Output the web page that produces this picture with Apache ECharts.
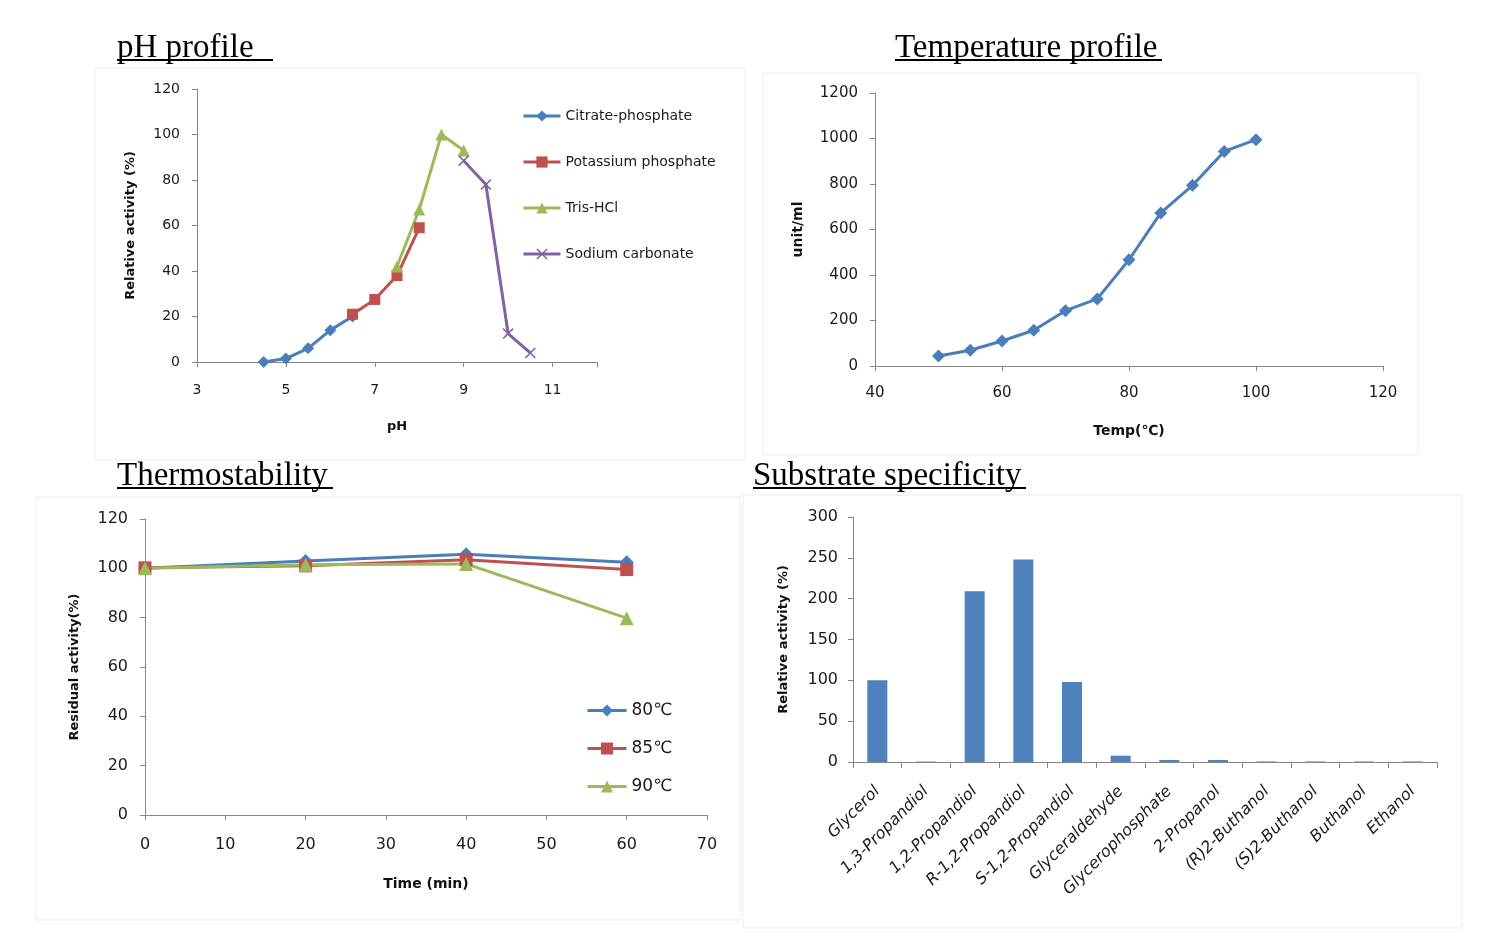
<!DOCTYPE html>
<html>
<head>
    <meta charset="utf-8">
    <script src="https://cdn.jsdelivr.net/npm/echarts@6/dist/echarts.min.js"></script>
    <style>
        html, body { margin: 0; padding: 0; background: #fff; }
    </style>
</head>
<body>
    <div id="main" style="width: 1485px;height:943px"></div>
    <script type="text/javascript">
        // data
        var phCitrate = [[4.5, 0], [5, 1.5], [5.5, 6], [6, 14], [6.5, 20]];
        var phPotassium = [[6.5, 21], [7, 27.5], [7.5, 38], [8, 59]];
        var phTris = [[7.5, 42], [8, 67], [8.5, 100], [9, 93]];
        var phSodium = [[9, 88.5], [9.5, 78], [10, 12.5], [10.5, 4]];

        var tempX = [50, 55, 60, 65, 70, 75, 80, 85, 90, 95, 100];
        var tempY = [44, 69, 110, 157, 243, 295, 467, 673, 794, 943, 995];

        var thermoTime = [0, 20, 40, 60];
        var thermo80 = [100, 103, 105.7, 102.5];
        var thermo85 = [100.2, 101, 103.5, 99.5];
        var thermo90 = [100, 101.5, 101.8, 79.8];

        var substrates = ['Glycerol', '1,3-Propandiol', '1,2-Propandiol', 'R-1,2-Propandiol',
            'S-1,2-Propandiol', 'Glyceraldehyde', 'Glycerophosphate', '2-Propanol',
            '(R)2-Buthanol', '(S)2-Buthanol', 'Buthanol', 'Ethanol'];
        var substrateAct = [100, 0.5, 209, 248, 98, 7.7, 2.4, 2.4, 0.7, 0.7, 0.7, 0.7];

        var FONT = "'DejaVu Sans', 'Noto Sans', sans-serif";
        var SERIF = "'Liberation Serif', 'DejaVu Serif', serif";
        var BLUE = '#4a7ebb', RED = '#c0504d', GREEN = '#9bbb59', PURPLE = '#8064a2';
        var CROSS = 'path://M1,0 L5,4 L9,0 L10,1 L6,5 L10,9 L9,10 L5,6 L1,10 L0,9 L4,5 L0,1 Z';

        var zipXY = function (xs, ys) {
            var out = [];
            for (var i = 0; i < xs.length; i++) { out.push([xs[i], ys[i]]); }
            return out;
        };

        var plain = function (v) { return String(v); };

        var axisBase = function (grid, size, margin) {
            return {
                gridIndex: grid,
                axisLine: { show: true, lineStyle: { color: '#878787', width: 1 } },
                axisTick: { show: true, length: 5, lineStyle: { color: '#878787' } },
                splitLine: { show: false },
                axisLabel: { color: '#1a1a1a', fontFamily: FONT, fontSize: size, margin: margin, formatter: plain },
                nameLocation: 'middle',
                nameTextStyle: { color: '#111', fontFamily: FONT, fontWeight: 'bold', fontSize: 13 }
            };
        };

        var mk = function (base, extra) {
            for (var k in extra) { base[k] = extra[k]; }
            return base;
        };

        var titleText = function (txt, x, y, ulw) {
            return [{
                type: 'text', x: x, y: y + 4,
                style: { text: txt, font: '33px ' + SERIF, fill: '#000', verticalAlign: 'middle' }
            }, {
                type: 'rect', shape: { x: x, y: y + 15, width: ulw, height: 2 },
                style: { fill: '#000' }
            }];
        };

        var panel = function (x, y, w, h) {
            return {
                type: 'rect', shape: { x: x, y: y, width: w, height: h }, silent: true, z: -10,
                style: { fill: 'none', stroke: '#ececec', lineWidth: 1 }
            };
        };

        var myChart = echarts.init(document.getElementById('main'));

        var lineSeries = function (name, x, y, data, color, symbol, size) {
            return {
                name: name, type: 'line', xAxisIndex: x, yAxisIndex: y, data: data,
                symbol: symbol, symbolSize: size, showAllSymbol: true,
                lineStyle: { color: color, width: 3 },
                itemStyle: { color: color },
                emphasis: { disabled: true },
                animation: false
            };
        };

        var option = {
            animation: false,
            graphic: [
                panel(95, 68, 650, 392),
                panel(763, 73, 655, 382),
                panel(36, 497, 704, 423),
                panel(743, 495, 719, 433)
            ].concat(titleText('pH profile', 117, 44, 156))
             .concat(titleText('Temperature profile', 895, 44, 267))
             .concat(titleText('Thermostability', 117, 472, 216))
             .concat(titleText('Substrate specificity', 753, 472, 273)),
            grid: [
                { left: 197, top: 89, width: 400, height: 273 },
                { left: 875, top: 93, width: 508, height: 273 },
                { left: 145, top: 519, width: 562, height: 296 },
                { left: 853, top: 517, width: 584, height: 245 }
            ],
            legend: [{
                orient: 'vertical', left: 522, top: 109, padding: 0,
                itemWidth: 37, itemHeight: 14, itemGap: 32,
                lineStyle: { width: 3 },
                textStyle: { fontFamily: FONT, fontSize: 14, color: '#1a1a1a' },
                data: ['Citrate-phosphate', 'Potassium phosphate', 'Tris-HCl', 'Sodium carbonate']
            }, {
                orient: 'vertical', left: 586, top: 702, padding: 0,
                itemWidth: 39, itemHeight: 15, itemGap: 21,
                lineStyle: { width: 3 },
                textStyle: { fontFamily: FONT, fontSize: 17, color: '#1a1a1a' },
                data: ['80℃', '85℃', '90℃']
            }],
            xAxis: [
                mk(axisBase(0, 14, 21), {
                    type: 'value', min: 3, max: 12, interval: 2, name: 'pH', nameGap: 58,
                    axisLabel: { color: '#1a1a1a', fontFamily: FONT, fontSize: 14, margin: 21,
                        formatter: function (v) { return v === 12 ? '' : String(v); } }
                }),
                mk(axisBase(1, 15, 20), {
                    type: 'value', min: 40, max: 120, interval: 20, name: 'Temp(℃)', nameGap: 58
                }),
                mk(axisBase(2, 16, 22), {
                    type: 'value', min: 0, max: 70, interval: 10, name: 'Time (min)', nameGap: 62
                }),
                mk(axisBase(3, 16, 20), {
                    type: 'category', data: substrates,
                    axisTick: { show: true, length: 6, alignWithLabel: false, interval: 0, lineStyle: { color: '#878787' } },
                    axisLabel: { color: '#1a1a1a', fontFamily: FONT, fontSize: 16, fontStyle: 'italic',
                        rotate: 45, interval: 0, margin: 27 }
                })
            ],
            yAxis: [
                mk(axisBase(0, 14, 17), {
                    type: 'value', min: 0, max: 120, interval: 20, name: 'Relative activity (%)', nameGap: 60
                }),
                mk(axisBase(1, 15, 17), {
                    type: 'value', min: 0, max: 1200, interval: 200, name: 'unit/ml', nameGap: 70
                }),
                mk(axisBase(2, 16, 17), {
                    type: 'value', min: 0, max: 120, interval: 20, name: 'Residual activity(%)', nameGap: 64
                }),
                mk(axisBase(3, 16, 15), {
                    type: 'value', min: 0, max: 300, interval: 50, name: 'Relative activity (%)', nameGap: 63
                })
            ],
            series: [
                lineSeries('Citrate-phosphate', 0, 0, phCitrate, BLUE, 'diamond', 12),
                lineSeries('Potassium phosphate', 0, 0, phPotassium, RED, 'rect', 11),
                lineSeries('Tris-HCl', 0, 0, phTris, GREEN, 'triangle', 12),
                lineSeries('Sodium carbonate', 0, 0, phSodium, PURPLE, CROSS, 11),
                lineSeries('Temp', 1, 1, zipXY(tempX, tempY), BLUE, 'diamond', 13),
                lineSeries('80℃', 2, 2, zipXY(thermoTime, thermo80), BLUE, 'diamond', 14),
                lineSeries('85℃', 2, 2, zipXY(thermoTime, thermo85), RED, 'rect', 13),
                lineSeries('90℃', 2, 2, zipXY(thermoTime, thermo90), GREEN, 'triangle', 14),
                {
                    name: 'Substrate', type: 'bar', xAxisIndex: 3, yAxisIndex: 3,
                    data: substrateAct, barWidth: 20,
                    itemStyle: { color: '#4f81bd' },
                    emphasis: { disabled: true }
                }
            ]
        };

        // axis names a touch larger where the picture shows them so
        option.xAxis[1].nameTextStyle.fontSize = 14;
        option.xAxis[2].nameTextStyle.fontSize = 14;
        option.yAxis[1].nameTextStyle.fontSize = 14;

        myChart.setOption(option);
    </script>
</body>
</html>
